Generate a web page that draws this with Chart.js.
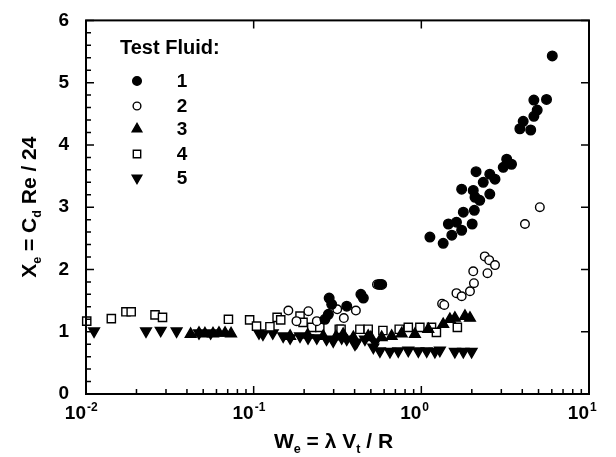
<!DOCTYPE html>
<html>
<head>
<meta charset="utf-8">
<script src="https://cdn.jsdelivr.net/npm/chart.js"></script>
<style>
  body { margin: 0; background: #fff; }
  #wrap { width: 616px; height: 457px; }
</style>
</head>
<body>
<div id="wrap"><canvas id="chart" width="616" height="457"></canvas></div>
<script>
// values (We on x, Xe on y)
const fluid1X = [0.266, 0.279, 0.282, 0.292, 0.359, 0.436, 0.451, 0.56, 0.58, 1.125, 1.35, 1.45, 1.52, 1.62, 1.74, 1.78, 1.74, 2.01, 2.07, 2.04, 2.09, 2.12, 2.23, 2.34, 2.56, 2.56, 2.75, 3.08, 3.23, 3.45, 3.87, 4.05, 4.49, 4.69, 4.69, 4.91, 5.58, 6.04];
const fluid1Y = [1.20, 1.28, 1.54, 1.44, 1.41, 1.60, 1.54, 1.76, 1.76, 2.52, 2.42, 2.73, 2.55, 2.76, 2.63, 2.92, 3.29, 2.73, 2.95, 3.27, 3.16, 3.57, 3.11, 3.40, 3.53, 3.21, 3.45, 3.64, 3.77, 3.69, 4.26, 4.38, 4.24, 4.46, 4.72, 4.56, 4.73, 5.43];

const fluid2X = [0.161, 0.180, 0.212, 0.238, 0.315, 0.345, 0.407, 0.544, 1.33, 1.37, 1.62, 1.74, 1.95, 2.06, 2.04, 2.48, 2.39, 2.54, 2.75, 4.15, 5.09];
const fluid2Y = [1.34, 1.17, 1.33, 1.17, 1.36, 1.22, 1.34, 1.76, 1.45, 1.43, 1.62, 1.57, 1.65, 1.78, 1.97, 1.94, 2.21, 2.15, 2.07, 2.73, 3.00];

const fluid3X = [0.0421, 0.0472, 0.0512, 0.0572, 0.0621, 0.0675, 0.0733, 0.165, 0.21, 0.26, 0.31, 0.342, 0.393, 0.482, 0.50, 0.58, 0.665, 0.763, 0.916, 1.10, 1.35, 1.48, 1.585, 1.82, 1.95];
const fluid3Y = [0.96, 0.98, 0.97, 0.97, 0.98, 0.98, 0.97, 0.93, 0.95, 0.93, 0.92, 0.96, 0.91, 0.93, 0.91, 0.91, 0.93, 0.97, 0.96, 1.04, 1.12, 1.20, 1.22, 1.25, 1.22];

const fluid4X = [0.0101, 0.01416, 0.0173, 0.0186, 0.0258, 0.0286, 0.0707, 0.0946, 0.104, 0.125, 0.138, 0.145, 0.189, 0.197, 0.222, 0.248, 0.324, 0.332, 0.430, 0.482, 0.590, 0.738, 0.836, 0.98, 1.15, 1.23, 1.64];
const fluid4Y = [1.17, 1.21, 1.32, 1.32, 1.27, 1.23, 1.20, 1.19, 1.09, 1.08, 1.23, 1.19, 1.25, 1.15, 1.07, 1.07, 1.04, 1.04, 1.04, 1.04, 1.02, 1.04, 1.07, 1.07, 1.07, 0.99, 1.07];

const fluid5X = [0.01117, 0.0228, 0.0279, 0.0347, 0.0472, 0.0554, 0.1076, 0.1136, 0.130, 0.150, 0.165, 0.189, 0.211, 0.238, 0.272, 0.298, 0.335, 0.359, 0.402, 0.411, 0.461, 0.517, 0.529, 0.566, 0.650, 0.728, 0.836, 0.959, 1.076, 1.205, 1.29, 1.585, 1.78, 1.995];
const fluid5Y = [1.01, 1.01, 1.02, 1.01, 0.98, 0.98, 0.98, 0.96, 0.98, 0.93, 0.90, 0.93, 0.90, 0.90, 0.88, 0.85, 0.90, 0.88, 0.80, 0.83, 0.88, 0.75, 0.83, 0.69, 0.68, 0.69, 0.70, 0.69, 0.69, 0.68, 0.70, 0.68, 0.68, 0.68];

const fluidLabels = ['1', '2', '3', '4', '5'];
const xDecades = [-2, -1, 0, 1];
const yTicks = [0, 1, 2, 3, 4, 5, 6];

const FONT = "'Liberation Sans', Arial, sans-serif";

function toPoints(xs, ys) {
    return xs.map((v, i) => ({ x: v, y: ys[i] }));
}

// marker styles for each fluid
const markers = [
    { pointStyle: 'circle', radius: 4.8, rotation: 0, fill: '#000' },
    { pointStyle: 'circle', radius: 4.3, rotation: 0, fill: '#fff' },
    { pointStyle: 'triangle', radius: 6.2, rotation: 0, fill: '#000' },
    { pointStyle: 'rect', radius: 5.8, rotation: 0, fill: '#fff' },
    { pointStyle: 'triangle', radius: 6.2, rotation: 180, fill: '#000' }
];
const seriesX = [fluid1X, fluid2X, fluid3X, fluid4X, fluid5X];
const seriesY = [fluid1Y, fluid2Y, fluid3Y, fluid4Y, fluid5Y];

const datasets = fluidLabels.map((lab, i) => ({
    label: lab,
    data: toPoints(seriesX[i], seriesY[i]),
    pointStyle: markers[i].pointStyle,
    pointRadius: markers[i].radius,
    pointRotation: markers[i].rotation,
    pointBackgroundColor: markers[i].fill,
    pointBorderColor: '#000',
    pointBorderWidth: 1.4,
    showLine: false,
    clip: false
}));

// draws text made of pieces, some of them subscripts
function richWidth(ctx, parts, size) {
    let w = 0;
    parts.forEach(p => {
        ctx.font = 'bold ' + (p.sub ? size * 0.6 : size) + 'px ' + FONT;
        w += ctx.measureText(p.t).width;
    });
    return w;
}
function drawRich(ctx, parts, x, y, size) {
    let cx = x;
    parts.forEach(p => {
        ctx.font = 'bold ' + (p.sub ? size * 0.6 : size) + 'px ' + FONT;
        ctx.fillText(p.t, cx, p.sub ? y + size * 0.22 : y);
        cx += ctx.measureText(p.t).width;
    });
}

const xTitle = [{ t: 'W' }, { t: 'e', sub: true }, { t: ' = \u03bb V' }, { t: 't', sub: true }, { t: ' / R' }];
const yTitle = [{ t: 'X' }, { t: 'e', sub: true }, { t: ' = C' }, { t: 'd', sub: true }, { t: ' Re / 24' }];

const decorPlugin = {
    id: 'decor',
    afterDraw(chart) {
        const ctx = chart.ctx;
        const a = chart.chartArea;
        const xs = chart.scales.x;
        const ys = chart.scales.y;
        ctx.save();
        ctx.strokeStyle = '#000';
        ctx.fillStyle = '#000';

        // frame
        ctx.lineWidth = 2;
        ctx.strokeRect(a.left, a.top, a.right - a.left, a.bottom - a.top);

        // x ticks, pointing inward
        ctx.lineWidth = 1.5;
        ctx.beginPath();
        xDecades.forEach(d => {
            const px = xs.getPixelForValue(Math.pow(10, d));
            ctx.moveTo(px, a.bottom); ctx.lineTo(px, a.bottom - 8);
            ctx.moveTo(px, a.top); ctx.lineTo(px, a.top + 8);
            if (d < 1) {
                for (let k = 2; k <= 9; k++) {
                    const m = xs.getPixelForValue(k * Math.pow(10, d));
                    ctx.moveTo(m, a.bottom); ctx.lineTo(m, a.bottom - 5);
                }
            }
        });
        // y ticks
        for (let i = 0; i <= 30; i++) {
            const v = i * 0.2;
            const py = ys.getPixelForValue(v);
            if (i % 5 === 0) {
                ctx.moveTo(a.left, py); ctx.lineTo(a.left + 8, py);
                ctx.moveTo(a.right, py); ctx.lineTo(a.right - 8, py);
            } else {
                ctx.moveTo(a.left, py); ctx.lineTo(a.left + 5, py);
            }
        }
        ctx.stroke();

        // x tick labels as 10 with a superscript
        ctx.textBaseline = 'alphabetic';
        xDecades.forEach(d => {
            const px = xs.getPixelForValue(Math.pow(10, d));
            ctx.font = 'bold 19px ' + FONT;
            ctx.textAlign = 'right';
            ctx.fillText('10', px, a.bottom + 25);
            ctx.font = 'bold 12px ' + FONT;
            ctx.textAlign = 'left';
            ctx.fillText(d < 0 ? '-' + Math.abs(d) : String(d), px + 1, a.bottom + 17);
        });

        // axis titles
        ctx.textAlign = 'left';
        const tw = richWidth(ctx, xTitle, 21);
        drawRich(ctx, xTitle, (a.left + a.right) / 2 - tw / 2 - 4, 448, 21);

        const yw = richWidth(ctx, yTitle, 21);
        ctx.save();
        ctx.translate(36, (a.top + a.bottom) / 2);
        ctx.rotate(-Math.PI / 2);
        drawRich(ctx, yTitle, -yw / 2, 0, 21);
        ctx.restore();

        // legend inside the plot
        ctx.font = 'bold 20px ' + FONT;
        ctx.textAlign = 'left';
        ctx.textBaseline = 'middle';
        ctx.fillText('Test Fluid:', 120, 48);
        const legY = [81, 106, 129, 154, 178];
        chart.data.datasets.forEach((ds, i) => {
            ctx.fillStyle = markers[i].fill;
            ctx.strokeStyle = '#000';
            ctx.lineWidth = 1.4;
            Chart.helpers.drawPoint(ctx, {
                pointStyle: markers[i].pointStyle,
                rotation: markers[i].rotation,
                radius: markers[i].radius * 0.9,
                borderWidth: 1.4
            }, 137, legY[i]);
            ctx.fillStyle = '#000';
            ctx.font = 'bold 19px ' + FONT;
            ctx.textAlign = 'center';
            ctx.fillText(ds.label, 182, legY[i] + 1);
        });
        ctx.restore();
    }
};

const chart = new Chart(document.getElementById('chart').getContext('2d'), {
    type: 'scatter',
    data: { datasets: datasets },
    options: {
        responsive: false,
        animation: false,
        layout: { padding: { top: 16, right: 27, left: 0, bottom: 0 } },
        plugins: {
            legend: { display: false },
            tooltip: { enabled: false }
        },
        scales: {
            x: {
                type: 'logarithmic',
                min: 0.01,
                max: 10,
                grid: { display: false },
                border: { display: false },
                ticks: { display: false },
                afterFit(scale) { scale.height = 63; }
            },
            y: {
                min: 0,
                max: 6,
                grid: { display: false },
                border: { display: false },
                afterBuildTicks(scale) { scale.ticks = yTicks.map(v => ({ value: v })); },
                ticks: {
                    color: '#000',
                    padding: 9,
                    font: { family: FONT, size: 19, weight: 'bold' }
                },
                afterFit(scale) { scale.width = 86; }
            }
        }
    },
    plugins: [decorPlugin]
});
</script>
</body>
</html>
